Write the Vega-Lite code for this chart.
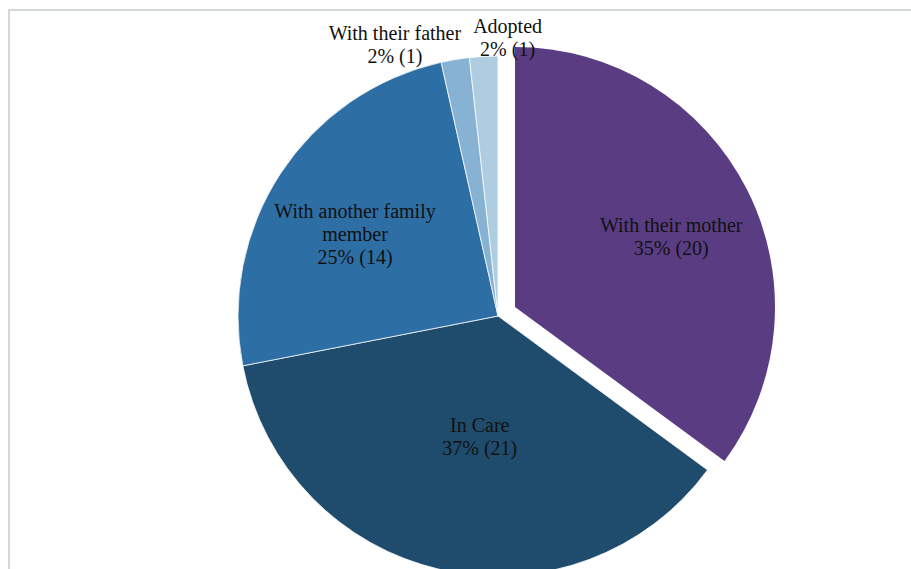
{
  "$schema": "https://vega.github.io/schema/vega-lite/v6.json",
  "width": 905,
  "height": 562,
  "autosize": "none",
  "padding": {"left": 9, "top": 10, "right": -3, "bottom": -3},
  "background": "white",
  "view": {"stroke": "#d3d8db", "strokeWidth": 2},
  "config": {
    "view": {"stroke": "#d3d8db", "strokeWidth": 2},
    "text": {"font": "Liberation Serif"}
  },
  "data": {
    "values": [
      {"rank": 1, "category": "With their mother", "count": 20, "label": "With their mother\n35% (20)"},
      {"rank": 2, "category": "In Care", "count": 21, "label": "In Care\n37% (21)"},
      {"rank": 3, "category": "With another family member", "count": 14, "label": "With another family\nmember\n25% (14)"},
      {"rank": 4, "category": "With their father", "count": 1, "label": "With their father\n2% (1)"},
      {"rank": 5, "category": "Adopted", "count": 1, "label": "Adopted\n2% (1)"}
    ]
  },
  "encoding": {
    "theta": {"field": "count", "type": "quantitative", "stack": true},
    "order": {"field": "rank", "type": "ordinal"}
  },
  "layer": [
    {
      "mark": {"type": "arc", "outerRadius": 260, "x": 489, "y": 306, "stroke": "white", "strokeWidth": 0.75},
      "encoding": {
        "color": {
          "field": "category", "type": "nominal", "legend": null,
          "scale": {
            "domain": ["With their mother", "In Care", "With another family member", "With their father", "Adopted"],
            "range": ["#5a3c83", "#1f4b6c", "#2d6ea4", "#87b2d3", "#aecde0"]
          }
        },
        "opacity": {"condition": {"test": "datum.category === 'With their mother'", "value": 0}, "value": 1}
      }
    },
    {
      "mark": {"type": "arc", "outerRadius": 260, "x": 506, "y": 297},
      "encoding": {
        "color": {"field": "category", "type": "nominal", "legend": null},
        "opacity": {"condition": {"test": "datum.category === 'With their mother'", "value": 1}, "value": 0}
      }
    },
    {
      "mark": {"type": "text", "font": "Liberation Serif", "x": 506, "y": 297, "radius": 165, "dx": 9, "dy": 0, "align": "center", "baseline": "alphabetic", "lineBreak": "\n", "fontSize": 20, "lineHeight": 23, "color": "#111111"},
      "encoding": {
        "text": {"field": "label"},
        "opacity": {"condition": {"test": "datum.category === 'With their mother'", "value": 1}, "value": 0}
      }
    },
    {
      "mark": {"type": "text", "font": "Liberation Serif", "x": 489, "y": 306, "radius": 120, "dx": 8, "dy": -1, "align": "center", "baseline": "alphabetic", "lineBreak": "\n", "fontSize": 20, "lineHeight": 23, "color": "#111111"},
      "encoding": {
        "text": {"field": "label"},
        "opacity": {"condition": {"test": "datum.category === 'In Care'", "value": 1}, "value": 0}
      }
    },
    {
      "mark": {"type": "text", "font": "Liberation Serif", "x": 489, "y": 306, "radius": 160, "dx": -9, "dy": -10, "align": "center", "baseline": "alphabetic", "lineBreak": "\n", "fontSize": 20, "lineHeight": 23, "color": "#111111"},
      "encoding": {
        "text": {"field": "label"},
        "opacity": {"condition": {"test": "datum.category === 'With another family member'", "value": 1}, "value": 0}
      }
    },
    {
      "mark": {"type": "text", "font": "Liberation Serif", "x": 489, "y": 306, "radius": 280, "dx": -57, "dy": 0, "align": "center", "baseline": "alphabetic", "lineBreak": "\n", "fontSize": 20, "lineHeight": 23, "color": "#111111"},
      "encoding": {
        "text": {"field": "label"},
        "opacity": {"condition": {"test": "datum.category === 'With their father'", "value": 1}, "value": 0}
      }
    },
    {
      "mark": {"type": "text", "font": "Liberation Serif", "x": 489, "y": 306, "radius": 280, "dx": 25, "dy": -3, "align": "center", "baseline": "alphabetic", "lineBreak": "\n", "fontSize": 20, "lineHeight": 23, "color": "#111111"},
      "encoding": {
        "text": {"field": "label"},
        "opacity": {"condition": {"test": "datum.category === 'Adopted'", "value": 1}, "value": 0}
      }
    }
  ]
}
